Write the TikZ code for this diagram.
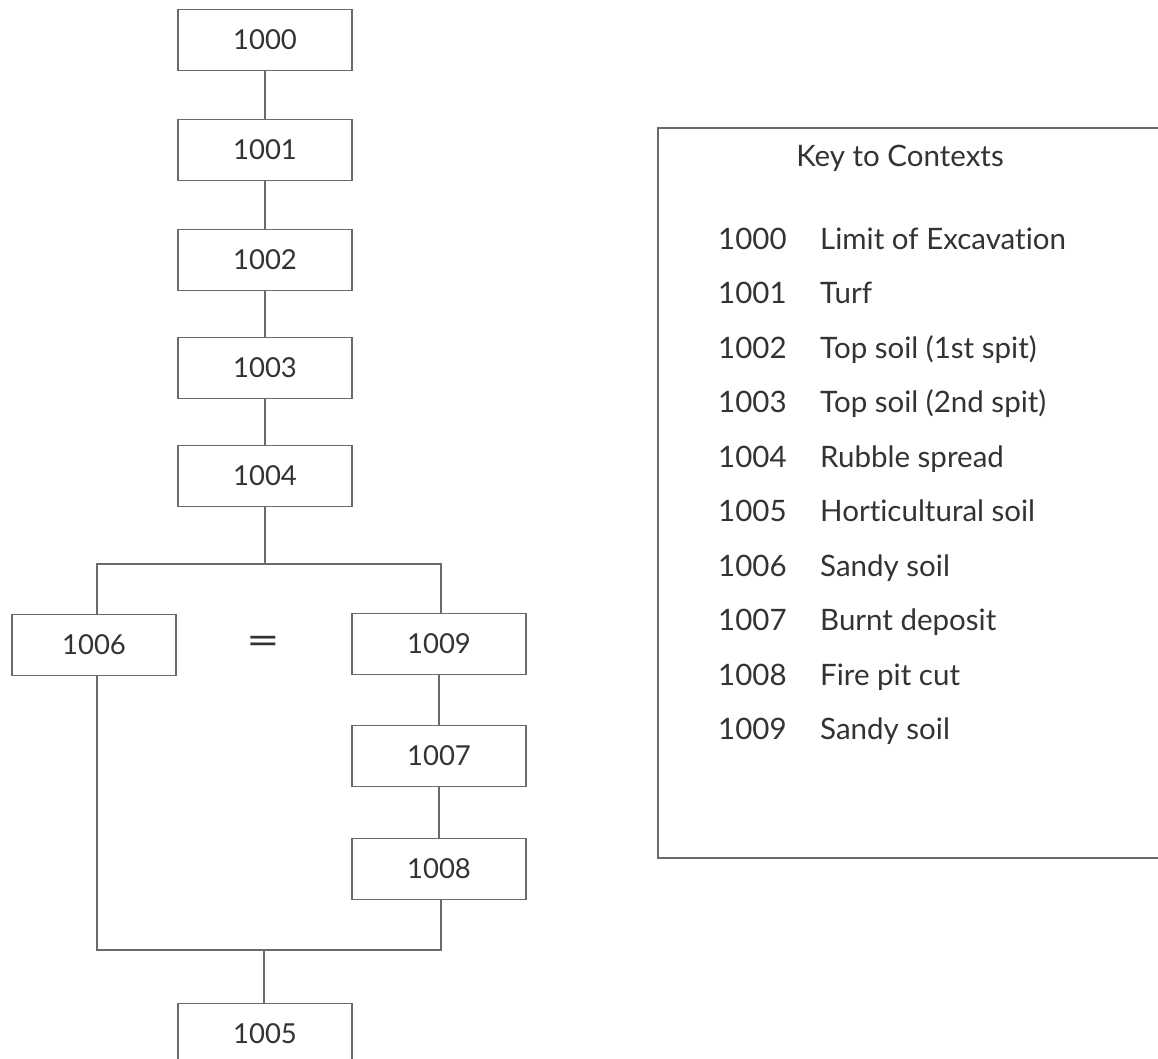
\documentclass[tikz,border=0pt]{standalone}
\usepackage{fontspec}
\setmainfont{Lato}[Ligatures=NoCommon]
\definecolor{linegray}{HTML}{6A6A6A}
\definecolor{txtgray}{HTML}{333333}
\begin{document}
\begin{tikzpicture}[x=1pt,y=-1pt,
  ln/.style={draw=linegray, line width=1.7pt},
  ctx/.style={ln, rectangle, minimum width=174pt, minimum height=61pt, inner sep=0pt,
    text=txtgray, font=\fontsize{27.5}{33}\selectfont},
  keytxt/.style={text=txtgray, font=\fontsize{29.5}{35}\selectfont, inner sep=0pt}]
\clip (0,0) rectangle (1158,1059);
\fill[white] (0,0) rectangle (1158,1059);
% main column
\node[ctx] (c1000) at (265,40) {1000};
\node[ctx] (c1001) at (265,150) {1001};
\node[ctx] (c1002) at (265,260) {1002};
\node[ctx] (c1003) at (265,368) {1003};
\node[ctx] (c1004) at (265,476) {1004};
\node[ctx, minimum width=164pt] (c1006) at (94,645) {1006};
\node[ctx] (c1009) at (439,644) {1009};
\node[ctx] (c1007) at (439,756) {1007};
\node[ctx] (c1008) at (439,869) {1008};
\node[ctx] (c1005) at (265,1034) {1005};
\node[keytxt, font=\fontsize{40}{48}\selectfont] (eq) at (263,645) {\scalebox{1.45}[1]{=}};
% connectors
\draw[ln] (c1000) -- (c1001);
\draw[ln] (c1001) -- (c1002);
\draw[ln] (c1002) -- (c1003);
\draw[ln] (c1003) -- (c1004);
\coordinate (jt) at (265,564);
\coordinate (jl) at (97,564);
\coordinate (jr) at (441,564);
\draw[ln] (c1004.south) -- (jt);
\draw[ln] (c1006.north -| jl) -- (jl) -- (jr) -- (c1009.north -| jr);
\draw[ln] (c1009) -- (c1007);
\draw[ln] (c1007) -- (c1008);
\coordinate (bl) at (97,950);
\coordinate (br) at (441,950);
\coordinate (bt) at (264,950);
\draw[ln] (c1006.south -| bl) -- (bl) -- (br) -- (c1008.south -| br);
\draw[ln] (bt) -- (c1005.north -| bt);
% key
\node[ln, rectangle, anchor=north west, minimum width=530pt, minimum height=730pt, inner sep=0pt] (key) at (657,127) {};
\node[keytxt, anchor=base] (title) at (900,167) {Key to Contexts};
\foreach \n/\d [count=\i from 0] in {1000/Limit of Excavation, 1001/Turf, 1002/Top soil (1st spit),
  1003/Top soil (2nd spit), 1004/Rubble spread, 1005/Horticultural soil, 1006/Sandy soil,
  1007/Burnt deposit, 1008/Fire pit cut, 1009/Sandy soil}{
  \node[keytxt, anchor=base west] (kn\n) at (718,{249+54.5*\i}) {\n};
  \node[keytxt, anchor=base west] (kd\n) at (820,{249+54.5*\i}) {\d};
}
\end{tikzpicture}
\end{document}
